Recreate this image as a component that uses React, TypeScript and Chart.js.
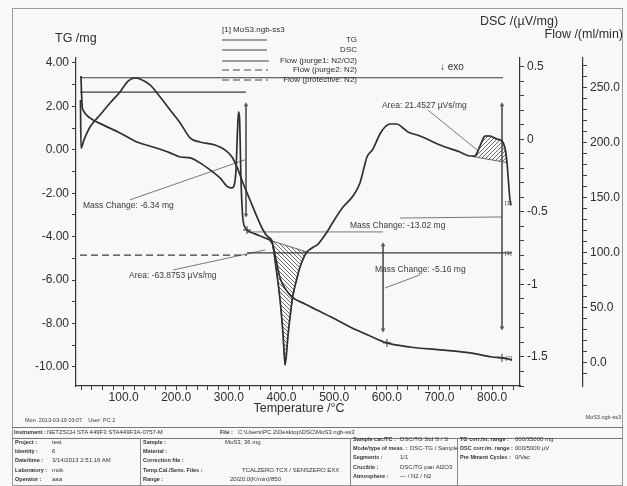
import React, { useEffect, useRef } from 'react';
import { Chart, registerables } from 'chart.js';

Chart.register(...registerables);

const FONT = '"Liberation Sans", Arial, Helvetica, sans-serif';

// ---------------- data (Temperature /°C) ----------------
const tgTemp = [19.2, 20.1, 21.1, 21.5, 23.0, 36.3, 61.0, 93.3, 125.6, 156.0, 188.6, 207.6, 226.6, 245.2, 264.2, 283.2, 298.4, 306.0, 309.8, 313.6, 316.5, 318.4, 320.3, 323.1, 326.0, 328.8, 334.5, 349.7, 368.7, 382.1, 389.7, 397.3, 408.7, 420.0, 444.7, 467.5, 501.7, 530.2, 568.0, 600.3, 644.0, 701.0, 758.0, 799.8, 818.8, 837.8];
const tgMass = [3.40, 2.67, 2.16, 1.98, 1.84, 1.47, 1.15, 0.78, 0.36, 0.13, -0.14, -0.33, -0.37, -0.60, -0.92, -1.29, -1.71, -1.75, -1.66, -0.92, 0.92, 1.75, 1.47, -1.39, -3.00, -3.46, -3.69, -3.87, -4.06, -4.29, -5.07, -5.90, -6.45, -6.78, -7.10, -7.38, -7.79, -8.16, -8.57, -8.89, -9.08, -9.21, -9.35, -9.54, -9.58, -9.67];

const dscTemp = [18.2, 19.2, 24.9, 36.3, 55.3, 74.3, 93.3, 108.5, 121.8, 131.3, 150.3, 169.6, 188.6, 207.6, 226.6, 245.2, 273.7, 292.7, 306.0, 315.5, 326.9, 340.2, 353.5, 364.9, 374.4, 382.1, 389.7, 397.3, 403.0, 406.8, 412.5, 416.2, 421.9, 427.6, 435.2, 442.8, 448.5, 458.0, 469.4, 486.5, 497.9, 516.9, 535.7, 549.0, 556.6, 562.3, 573.7, 587.0, 596.5, 606.0, 619.3, 630.7, 640.2, 663.0, 701.0, 739.0, 758.0, 767.5, 777.0, 786.5, 796.0, 809.3, 818.8, 824.5, 828.3, 834.0, 835.9];
const dscValue = [0.272, -0.059, -0.003, 0.086, 0.169, 0.252, 0.328, 0.403, 0.424, 0.417, 0.376, 0.293, 0.203, 0.114, 0.010, -0.017, -0.038, -0.072, -0.121, -0.190, -0.300, -0.417, -0.534, -0.624, -0.672, -0.700, -0.886, -1.107, -1.348, -1.555, -1.348, -1.224, -1.072, -0.983, -0.879, -0.810, -0.776, -0.748, -0.721, -0.638, -0.569, -0.466, -0.390, -0.300, -0.197, -0.121, -0.066, 0.038, 0.086, 0.107, 0.107, 0.079, 0.052, 0.024, -0.038, -0.086, -0.114, -0.114, -0.045, 0.024, 0.024, 0.003, -0.010, -0.059, -0.159, -0.417, -0.452];

// integrated peaks (closed: curve + baseline)
const endoPeakTemp = [382.1, 389.7, 397.3, 403.0, 406.8, 412.5, 416.2, 421.9, 427.6, 435.2, 442.8, 448.5, 382.1];
const endoPeakValue = [-0.700, -0.886, -1.107, -1.348, -1.555, -1.348, -1.224, -1.072, -0.983, -0.879, -0.810, -0.776, -0.700];
const exoPeakTemp = [762.0, 767.5, 777.0, 786.5, 796.0, 809.3, 818.8, 824.5, 828.3, 762.0];
const exoPeakValue = [-0.117, -0.114, -0.045, 0.024, 0.024, 0.003, -0.010, -0.059, -0.159, -0.117];

// flows /(ml/min)
const flowPurge1Temp = [17.3, 821.0];
const flowPurge1 = [259, 259];
const flowProtTemp = [17.3, 332.6];
const flowProt = [246, 246];
const flowPurge2Temp = [17.3, 334.5];
const flowPurge2 = [98, 98];
const flowLateTemp = [334.5, 837.8];
const flowLate = [100, 100];

// evaluation marks (TG units)
const arrow634Temp = [332.6, 332.6];
const arrow634Mass = [2.07, -3.00];
const arrow516Temp = [592.9, 592.9];
const arrow516Mass = [-4.38, -8.29];
const arrow1302Temp = [818.8, 818.8];
const arrow1302Mass = [2.07, -8.20];
const stepRefTemp = [334.5, 592.9];
const stepRefMass = [-3.78, -3.78];
const lead634Temp = [112.3, 330.7];
const lead634Mass = [-2.30, -0.46];
const lead1302Temp = [625.2, 818.8];
const lead1302Mass = [-3.14, -3.09];
const lead516Temp = [596.5, 663.0];
const lead516Mass = [-6.36, -5.76];
const stepMarkTemp = [334.5, 600.3, 818.8];
const stepMarkMass = [-3.69, -8.89, -9.58];
// evaluation marks (DSC units)
const leadEndoTemp = [194.0, 368.7];
const leadEndoValue = [-0.90, -0.762];
const leadExoTemp = [678.2, 771.3];
const leadExoValue = [0.203, -0.072];

// ticks
const tempMajor = [100, 200, 300, 400, 500, 600, 700, 800];
const tgMajor = [4, 2, 0, -2, -4, -6, -8, -10];
const dscMajor = [0.5, 0, -0.5, -1, -1.5];
const flowMajor = [250, 200, 150, 100, 50, 0];

const notes = [
  { text: 'Mass Change: -6.34 mg', t: 23.0, v: -2.58 },
  { text: 'Area: -63.8753 µVs/mg', t: 110.4, v: -5.81 },
  { text: 'Area: 21.4527 µVs/mg', t: 590.8, v: 2.02 },
  { text: 'Mass Change: -13.02 mg', t: 530.0, v: -3.51 },
  { text: 'Mass Change: -5.16 mg', t: 577.5, v: -5.53 },
];
const curveTags = [
  { t: 824.5, v: -2.45 },
  { t: 824.5, v: -4.75 },
  { t: 825.5, v: -9.58 },
];

const infoCol1 = [['Project :', 'test'], ['Identity :', '6'], ['Date/time :', '3/14/2013 2:51:16 AM'], ['Laboratory :', 'mok'], ['Operator :', 'aaa']];
const infoCol2 = [['Sample :', 'MoS3, 36 mg'], ['Material :', ''], ['Correction file :', ''], ['Temp.Cal./Sens. Files :', 'TCALZERO.TCX / SENSZERO.EXX'], ['Range :', '20/20.0(K/min)/850']];
const infoCol3 = [['Sample car./TC :', 'DSC/TG Std S / S'], ['Mode/type of meas. :', 'DSC-TG / Sample'], ['Segments :', '1/1'], ['Crucible :', 'DSC/TG pan Al2O3'], ['Atmosphere :', '--- / N2 / N2']];
const infoCol4 = [['TG corr./m. range :', '000/35000 mg'], ['DSC corr./m. range :', '000/5000 µV'], ['Pre Mment Cycles :', '0/Vac']];

const pts = (xs: number[], ys: number[]) => xs.map((x, i) => ({ x, y: ys[i] }));
const range = (a: number, b: number, s: number) => {
  const out: number[] = [];
  for (let v = a; v <= b + 1e-9; v += s) out.push(Math.round(v * 1000) / 1000);
  return out;
};
const near = (arr: number[], v: number) => arr.find((m) => Math.abs(m - v) < 1e-6);

const INK = '#303030';

function Txt(p: { x: number; y: number; s?: number; b?: boolean; children: React.ReactNode }) {
  const s = p.s ?? 6;
  return (
    <div style={{ position: 'absolute', left: p.x, top: p.y - s * 0.65, fontSize: s, lineHeight: `${s * 1.3}px`, fontWeight: p.b ? 700 : 400, color: '#333', whiteSpace: 'nowrap' }}>
      {p.children}
    </div>
  );
}

export default function App() {
  const ref = useRef<HTMLCanvasElement | null>(null);

  useEffect(() => {
    const canvas = ref.current;
    if (!canvas) return;
    const c2d = canvas.getContext('2d')!;
    const hatch = (dir: number) => {
      const c = document.createElement('canvas');
      c.width = 4;
      c.height = 4;
      const g = c.getContext('2d')!;
      g.strokeStyle = '#4a4a4a';
      g.lineWidth = 0.8;
      g.beginPath();
      if (dir > 0) {
        g.moveTo(0, 4); g.lineTo(4, 0);
        g.moveTo(-1, 1); g.lineTo(1, -1);
        g.moveTo(3, 5); g.lineTo(5, 3);
      } else {
        g.moveTo(0, 0); g.lineTo(4, 4);
        g.moveTo(3, -1); g.lineTo(5, 1);
        g.moveTo(-1, 3); g.lineTo(1, 5);
      }
      g.stroke();
      return c2d.createPattern(c, 'repeat');
    };

    const curve = { pointRadius: 0, borderColor: INK, borderWidth: 1.7, cubicInterpolationMode: 'monotone' as const, fill: false };
    const thin = { pointRadius: 0, borderColor: '#6a6a6a', borderWidth: 0.9, tension: 0, fill: false };
    const flow = { pointRadius: 0, borderColor: '#3c3c3c', borderWidth: 1.1, tension: 0, fill: false, yAxisID: 'yFlow' };
    const arrow = {
      ...thin,
      borderColor: '#555',
      yAxisID: 'yTG',
      pointRadius: 2.6,
      pointStyle: 'triangle',
      pointBackgroundColor: '#555',
      pointBorderWidth: 0,
      pointRotation: (c: any) => (c.dataIndex === 0 ? 0 : 180),
    };

    const datasets: any[] = [
      { label: 'TG', data: pts(tgTemp, tgMass), yAxisID: 'yTG', ...curve },
      { label: 'DSC', data: pts(dscTemp, dscValue), yAxisID: 'yDSC', ...curve },
      { label: 'Flow (purge1: N2/O2)', data: pts(flowPurge1Temp, flowPurge1), ...flow },
      { label: 'Flow (protective: N2)', data: pts(flowProtTemp, flowProt), ...flow },
      { label: 'Flow (purge2: N2)', data: pts(flowPurge2Temp, flowPurge2), ...flow, borderDash: [7, 4] },
      { label: 'Flow', data: pts(flowLateTemp, flowLate), ...flow },
      { label: 'step marks', data: pts(stepMarkTemp, stepMarkMass), yAxisID: 'yTG', showLine: false, pointStyle: 'cross', pointRadius: 4, pointBorderColor: '#333', pointBorderWidth: 1 },
      { label: 'a1', data: pts(arrow634Temp, arrow634Mass), ...arrow },
      { label: 'a2', data: pts(arrow516Temp, arrow516Mass), ...arrow },
      { label: 'a3', data: pts(arrow1302Temp, arrow1302Mass), ...arrow },
      { label: 'ref', data: pts(stepRefTemp, stepRefMass), yAxisID: 'yTG', ...thin },
      { label: 'l1', data: pts(lead634Temp, lead634Mass), yAxisID: 'yTG', ...thin },
      { label: 'l2', data: pts(lead1302Temp, lead1302Mass), yAxisID: 'yTG', ...thin },
      { label: 'l3', data: pts(lead516Temp, lead516Mass), yAxisID: 'yTG', ...thin },
      { label: 'l4', data: pts(leadEndoTemp, leadEndoValue), yAxisID: 'yDSC', ...thin },
      { label: 'l5', data: pts(leadExoTemp, leadExoValue), yAxisID: 'yDSC', ...thin },
      { label: 'endo', data: pts(endoPeakTemp, endoPeakValue), yAxisID: 'yDSC', pointRadius: 0, tension: 0, borderColor: '#444', borderWidth: 0.8, fill: 'shape', backgroundColor: hatch(-1) },
      { label: 'exo', data: pts(exoPeakTemp, exoPeakValue), yAxisID: 'yDSC', pointRadius: 0, tension: 0, borderColor: '#444', borderWidth: 0.8, fill: 'shape', backgroundColor: hatch(1) },
    ];

    const grid = { drawOnChartArea: false, drawTicks: true, tickLength: 4, tickColor: '#3a3a3a', tickWidth: 1 };
    const border = { display: true, color: '#353535', width: 1.2 };
    const tickFont = { size: 12, family: FONT };

    const textPlugin = {
      id: 'texts',
      afterDraw(chart: any) {
        const { ctx, scales } = chart;
        ctx.save();
        ctx.fillStyle = '#2e2e2e';
        ctx.textBaseline = 'middle';
        // axis titles
        ctx.font = `12.5px ${FONT}`;
        ctx.textAlign = 'left';
        ctx.fillText('TG /mg', 55, 39);
        ctx.fillText('DSC /(µV/mg)', 480, 22);
        ctx.textAlign = 'right';
        ctx.fillText('Flow /(ml/min)', 623, 35);
        ctx.textAlign = 'center';
        ctx.fillText('Temperature /°C', 299, 409);
        // legend
        ctx.textAlign = 'left';
        ctx.font = `8px ${FONT}`;
        ctx.fillText('[1] MoS3.ngb-ss3', 222, 30);
        const rows = [
          { label: 'TG', y: 40, dash: [] as number[], end: 267 },
          { label: 'DSC', y: 50, dash: [], end: 267 },
          { label: 'Flow (purge1: N2/O2)', y: 61, dash: [], end: 269 },
          { label: 'Flow (purge2: N2)', y: 70, dash: [7, 4], end: 268 },
          { label: 'Flow (protective: N2)', y: 80, dash: [7, 4], end: 268 },
        ];
        ctx.strokeStyle = '#444';
        ctx.lineWidth = 1;
        ctx.textAlign = 'right';
        for (const r of rows) {
          ctx.setLineDash(r.dash);
          ctx.beginPath();
          ctx.moveTo(222, r.y);
          ctx.lineTo(r.end, r.y);
          ctx.stroke();
          ctx.fillText(r.label, 357, r.y);
        }
        ctx.setLineDash([]);
        // exo mark
        ctx.textAlign = 'left';
        ctx.font = `10px ${FONT}`;
        ctx.fillText('↓ exo', 440, 67);
        // evaluation notes (placed on TG scale)
        ctx.font = `8.5px ${FONT}`;
        ctx.fillStyle = '#3a3a3a';
        for (const n of notes) {
          ctx.fillText(n.text, scales.x.getPixelForValue(n.t), scales.yTG.getPixelForValue(n.v));
        }
        ctx.font = `6px ${FONT}`;
        for (const c of curveTags) {
          ctx.fillText('[1]', scales.x.getPixelForValue(c.t), scales.yTG.getPixelForValue(c.v));
        }
        // footer line of the plot
        ctx.font = `5.5px ${FONT}`;
        ctx.fillText('Mon  2013-03-19 03:07    User: PC 2', 25, 420);
        ctx.textAlign = 'right';
        ctx.fillText('MoS3.ngb-ss3', 621, 417);
        ctx.restore();
      },
    };

    const chart = new Chart(canvas, {
      type: 'line',
      data: { datasets },
      options: {
        animation: false,
        responsive: false,
        events: [],
        layout: { padding: { top: 58, bottom: 78, left: 0, right: 0 } },
        plugins: { legend: { display: false }, tooltip: { enabled: false }, title: { display: false } },
        scales: {
          x: {
            type: 'linear',
            min: 9.7,
            max: 853,
            afterFit: (s: any) => { s.height = 22; },
            afterBuildTicks: (s: any) => { s.ticks = range(20, 840, 20).map((value) => ({ value })); },
            grid, border,
            ticks: {
              autoSkip: false, maxRotation: 0, minRotation: 0, padding: 0, color: '#2e2e2e', font: tickFont,
              callback: (v: any) => { const m = near(tempMajor, Number(v)); return m === undefined ? '' : m.toFixed(1); },
            },
          },
          yTG: {
            type: 'linear',
            position: 'left',
            min: -10.875,
            max: 4.23,
            afterFit: (s: any) => { s.width = 76; },
            afterBuildTicks: (s: any) => { s.ticks = range(-10, 4, 1).map((value) => ({ value })); },
            grid, border,
            ticks: {
              autoSkip: false, padding: 3, color: '#2e2e2e', font: tickFont,
              callback: (v: any) => { const m = near(tgMajor, Number(v)); return m === undefined ? '' : m.toFixed(2); },
            },
          },
          yDSC: {
            type: 'linear',
            position: 'right',
            weight: 0,
            min: -1.70,
            max: 0.562,
            afterFit: (s: any) => { s.width = 63; },
            afterBuildTicks: (s: any) => { s.ticks = range(-1.7, 0.5, 0.1).map((value) => ({ value })); },
            grid, border,
            ticks: {
              autoSkip: false, padding: 3, color: '#2e2e2e', font: tickFont,
              callback: (v: any) => { const m = near(dscMajor, Number(v)); return m === undefined ? '' : String(m); },
            },
          },
          yFlow: {
            type: 'linear',
            position: 'right',
            weight: 1,
            min: -20.9,
            max: 277,
            afterFit: (s: any) => { s.width = 44; },
            afterBuildTicks: (s: any) => { s.ticks = range(-10, 270, 10).map((value) => ({ value })); },
            grid, border,
            ticks: {
              autoSkip: false, padding: 3, color: '#2e2e2e', font: tickFont,
              callback: (v: any) => { const m = near(flowMajor, Number(v)); return m === undefined ? '' : m.toFixed(1); },
            },
          },
        },
      } as any,
      plugins: [textPlugin],
    });
    return () => chart.destroy();
  }, []);

  const rowY = [443, 452, 461, 471, 480];
  const col2ValueX = [225, 225, 225, 242, 230];

  return (
    <div style={{ position: 'fixed', left: 0, top: 0, width: 627, height: 486, background: '#f8f8f6', overflow: 'hidden', fontFamily: FONT }}>
      <div style={{ position: 'absolute', left: 12, top: 8, width: 611, height: 478, border: '1px solid #9a9a9a', boxSizing: 'border-box' }} />
      <canvas ref={ref} width={627} height={486} style={{ position: 'absolute', left: 0, top: 0 }} />
      {/* info table */}
      <div style={{ position: 'absolute', left: 12, top: 427, width: 611, height: 1, background: '#777' }} />
      <div style={{ position: 'absolute', left: 12, top: 438, width: 611, height: 1, background: '#777' }} />
      <div style={{ position: 'absolute', left: 140, top: 438, width: 1, height: 48, background: '#888' }} />
      <div style={{ position: 'absolute', left: 350, top: 438, width: 1, height: 48, background: '#888' }} />
      <div style={{ position: 'absolute', left: 457, top: 438, width: 1, height: 48, background: '#888' }} />
      <Txt x={14} y={433} s={5.5} b>Instrument :</Txt>
      <Txt x={47} y={433}>NETZSCH STA 449F3 STA449F3A-0757-M</Txt>
      <Txt x={220} y={433} s={5.5} b>File :</Txt>
      <Txt x={238} y={433}>C:\Users\PC 2\Desktop\DSC\MoS3.ngb-ss3</Txt>
      {infoCol1.map((r, i) => (
        <React.Fragment key={'a' + i}>
          <Txt x={15} y={rowY[i]} s={5.5} b>{r[0]}</Txt>
          <Txt x={52} y={rowY[i]}>{r[1]}</Txt>
        </React.Fragment>
      ))}
      {infoCol2.map((r, i) => (
        <React.Fragment key={'b' + i}>
          <Txt x={143} y={rowY[i]} s={5.5} b>{r[0]}</Txt>
          <Txt x={col2ValueX[i]} y={rowY[i]}>{r[1]}</Txt>
        </React.Fragment>
      ))}
      {infoCol3.map((r, i) => (
        <React.Fragment key={'c' + i}>
          <Txt x={353} y={rowY[i] - 3} s={5.5} b>{r[0]}</Txt>
          <Txt x={i === 1 ? 410 : 400} y={rowY[i] - 3}>{r[1]}</Txt>
        </React.Fragment>
      ))}
      {infoCol4.map((r, i) => (
        <React.Fragment key={'d' + i}>
          <Txt x={460} y={rowY[i] - 3} s={5.5} b>{r[0]}</Txt>
          <Txt x={515} y={rowY[i] - 3}>{r[1]}</Txt>
        </React.Fragment>
      ))}
    </div>
  );
}
